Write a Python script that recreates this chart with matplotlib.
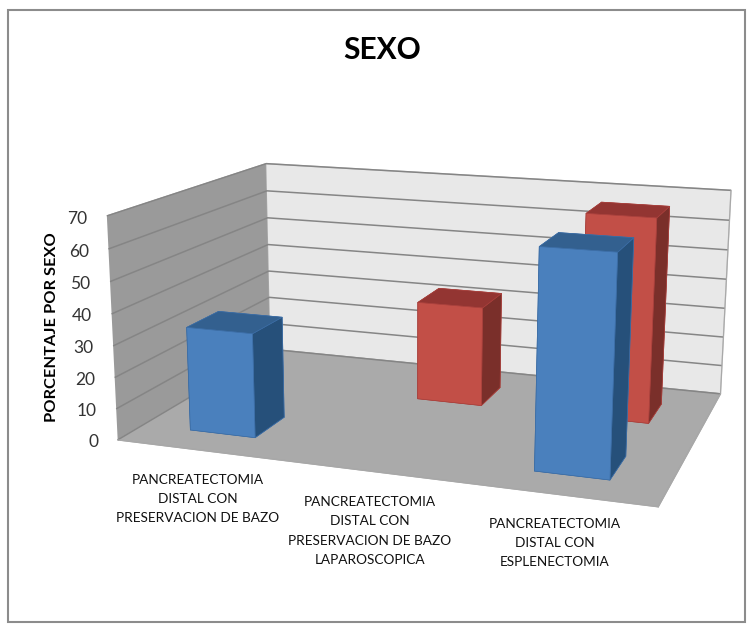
import matplotlib
matplotlib.use("Agg")
import matplotlib.pyplot as plt
import numpy as np
from matplotlib.patches import Rectangle
from mpl_toolkits.mplot3d import proj3d

categories = ["PANCREATECTOMIA\nDISTAL CON\nPRESERVACION DE BAZO",
              "PANCREATECTOMIA\nDISTAL CON\nPRESERVACION DE BAZO\nLAPAROSCOPICA",
              "PANCREATECTOMIA\nDISTAL CON\nESPLENECTOMIA"]
blue_values = [33.3, 0, 66.7]
red_values = [0, 33.3, 66.7]
z_ticks = [0, 10, 20, 30, 40, 50, 60, 70]
title = "SEXO"
ylabel = "PORCENTAJE POR SEXO"

W, H = 747, 632
fig = plt.figure(figsize=(W/100, H/100), dpi=100, facecolor="white")
fig.add_artist(Rectangle((8/W, 1-622/H), 737/W, 612/H, fill=False, ec="#8c8c8c", lw=1.5, transform=fig.transFigure))

S = 632
cx, cy = 426.034, 319.5
ax = fig.add_axes([(cx-S/2)/W, (H-cy-S/2)/H, S/W, S/H], projection="3d", computed_zorder=False)
ax.patch.set_alpha(0)
ax.set_proj_type("persp", focal_length=0.448)
ax.view_init(elev=14.028, azim=-71.127, roll=-0.252)
ax.set_box_aspect((1.0, 0.663, 0.417), zoom=1.028)
ax.set_xlim(0, 3); ax.set_ylim(0, 2); ax.set_zlim(0, 70)
ax.set_xticks([]); ax.set_yticks([])
ax.set_zticks(z_ticks)
ax.set_zticklabels([])
ax.xaxis.pane.set_alpha(1); ax.yaxis.pane.set_alpha(1); ax.zaxis.pane.set_alpha(1)
ax.xaxis.pane.set_facecolor("#9a9a9a"); ax.xaxis.pane.set_edgecolor("#a8a8a8")
ax.yaxis.pane.set_facecolor("#e8e8e8"); ax.yaxis.pane.set_edgecolor("#c8c8c8")
ax.zaxis.pane.set_facecolor("#aaaaaa"); ax.zaxis.pane.set_edgecolor("#a8a8a8")
ax.grid(True)
for a in (ax.xaxis, ax.yaxis, ax.zaxis):
    a._axinfo["grid"].update(color="#858585", linewidth=1.1)
    a._axinfo["tick"].update(inward_factor=0, outward_factor=0)
    a.line.set_color("#a8a8a8")

w, d = 0.4, 0.39
blue_faces = ["#4a7fbb", "#33608f", "#4a80bd", "#33608f", "#26507a", "#26507a"]
red_faces = ["#c0504d", "#933532", "#c24f47", "#933532", "#7a2f2a", "#7a2f2a"]
for i, v in enumerate(red_values):
    if v > 0:
        ax.bar3d(i+0.30, 1.28, 0, w, d, v, color=red_faces, shade=False, zorder=2+i,
                 edgecolor="#a8403c", linewidth=0.5)
for i, v in enumerate(blue_values):
    if v > 0:
        ax.bar3d(i+0.295, 0.29, 0, w, d, v, color=blue_faces, shade=False, zorder=6+i,
                 edgecolor="#3c6da5", linewidth=0.5)

M = ax.get_proj()
for v in z_ticks:
    px, py, _ = proj3d.proj_transform(-0.12, 0, v, M)
    ax.annotate(str(v), (px, py), xytext=(0, -3), textcoords="offset points", ha="right", va="center",
                fontsize=12.5, color="#333333", family="Lato", annotation_clip=False)

fig.text(382/W, 1-50/H, title, ha="center", va="center", fontsize=21.5, fontweight="bold", family="Lato")
fig.text(52/W, 1-327/H, ylabel, rotation=90, ha="center", va="center", fontsize=11.8, fontweight="bold", family="Lato")
for (x, y), c in zip([(198, 499), (370, 531), (555, 543)], categories):
    fig.text(x/W, 1-y/H, c, ha="center", va="center", fontsize=9.8, linespacing=1.72, family="Lato", color="#111111")
fig.savefig("out.png", dpi=100)
